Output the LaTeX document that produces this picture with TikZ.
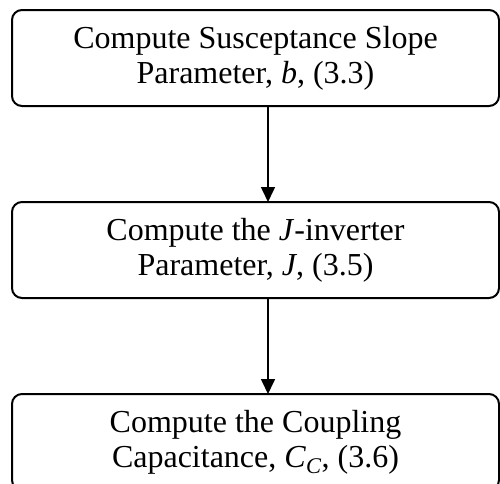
\documentclass[tikz,border=0pt]{standalone}
\usepackage{fontspec}
\setmainfont{Liberation Serif}
\usepackage{tikz}
\usetikzlibrary{arrows.meta, positioning}

\tikzset{
	stepbox/.style={draw, line width=2pt, rounded corners=10pt, outer sep=0pt,
		minimum width=487pt, minimum height=96pt, align=center,
		font=\fontsize{32}{35}\selectfont},
	flow/.style={-{Triangle[length=15pt,width=14pt]}, line width=1.6pt}
}

\begin{document}
\begin{tikzpicture}[x=1pt, y=1pt]
	\clip (0,0) rectangle (500,-483);
	\node[stepbox] (susc) at (255.5,-58) {Compute Susceptance Slope\\Parameter, \textit{b}, (3.3)};
	\node[stepbox, below=96pt of susc] (jinv) {Compute the \textit{J}-inverter\\Parameter, \textit{J}, (3.5)};
	\node[stepbox, below=96pt of jinv] (coupl) {Compute the Coupling\\Capacitance, \textit{C}\textsubscript{\textit{C}}, (3.6)};
	
	% arrows run a little right of the box centres
	\coordinate (axis) at (268,0);
	\draw[flow] (susc.south -| axis) -- (jinv.north -| axis);
	\draw[flow] (jinv.south -| axis) -- (coupl.north -| axis);
\end{tikzpicture}
\end{document}
